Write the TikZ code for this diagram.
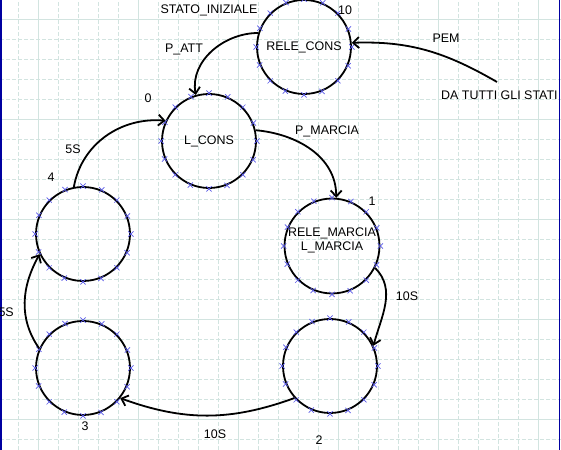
\documentclass[tikz,border=0pt]{standalone}
\usepackage{fontspec}
\setmainfont{Liberation Sans}
\usetikzlibrary{shapes,arrows,arrows.meta,positioning}
\definecolor{gridcol}{RGB}{210,228,224}
\definecolor{markcol}{RGB}{90,90,230}
\definecolor{framecol}{RGB}{0,0,160}
\tikzstyle{state} = [circle, draw, line width=1.8bp, minimum size=94bp, inner sep=0pt, align=center, font=\fontsize{12.5}{13.5}\selectfont]
\tikzstyle{pin} = [cross out, draw=markcol, line width=0.7bp, minimum size=4.5bp, inner sep=0pt]
\tikzstyle{trans} = [line width=1.8bp, -{Straight Barb[length=6bp,width=11bp]}]
\tikzstyle{lbl} = [inner sep=0pt, font=\fontsize{12.5}{13.5}\selectfont]
\tikzstyle{gridd} = [gridcol, line width=0.8bp, dash pattern=on 4bp off 2bp]
\tikzstyle{grids} = [gridcol, line width=0.8bp]

\begin{document}
\begin{tikzpicture}[x=1bp,y=1bp]
\useasboundingbox (0,0) rectangle (561,450);
% sheet grid
\foreach \x in {18,38,...,538} \draw[gridd] (\x,0) -- (\x,450);
\foreach \y in {11,31,...,431} \draw[gridd] (0,\y) -- (561,\y);
\foreach \x in {38,138,...,538} \draw[grids] (\x,0) -- (\x,450);
\foreach \y in {31,131,...,431} \draw[grids] (0,\y) -- (561,\y);
\fill[framecol] (0,0) rectangle (1.5,450);
\fill[framecol] (558.5,0) rectangle (560,450);

% states
\node[state] (rc) at (304,403) {RELE\_CONS};
\node[state] (lc) at (209,309) {L\_CONS};
\node[state, text depth=14bp] (rm) at (332,204) {RELE\_MARCIA\\L\_MARCIA};
\node[state] (s2) at (330,84) {};
\node[state] (s3) at (83,82) {};
\node[state] (s4) at (83,216) {};
\foreach \n in {rc,lc,rm,s2,s3,s4}
  \foreach \a [count=\i] in {0,22.5,...,337.5}
    \node[pin] (\n-\i) at (\n.\a) {};

% transitions
\coordinate (all) at (497,368);
\draw[trans] (rc.163) to[out=180,in=100] (lc.106);
\draw[trans] (all) to[out=150,in=2] (rc.5);
\draw[trans] (lc.13) to[out=-5,in=90] (rm.85);
\draw[trans] (rm.-27) to[out=-45,in=75] (s2.25);
\draw[trans] (s2.222) to[out=200,in=-20] (s3.-39);
\draw[trans] (s3.156) to[out=125,in=241] (s4.205);
\draw[trans] (s4.101) to[out=80,in=175] (lc.155);

% labels
\node[lbl] (init) at (209,440) {STATO\_INIZIALE};
\node[lbl] (n10) at (345,440) {10};
\node[lbl] (patt) at (184,401) {P\_ATT};
\node[lbl] (pem) at (446,412) {PEM};
\node[lbl, anchor=west] (da) at (441,355) {DA TUTTI GLI STATI};
\node[lbl] (n0) at (148,352) {0};
\node[lbl] (t5a) at (73,301) {5S};
\node[lbl] (n4) at (51,273) {4};
\node[lbl] (pmar) at (327,319) {P\_MARCIA};
\node[lbl] (n1) at (372,249) {1};
\node[lbl] (t10a) at (407,154) {10S};
\node[lbl, anchor=east] (t5b) at (14,138) {5S};
\node[lbl] (n3) at (85,24) {3};
\node[lbl] (t10b) at (215,16) {10S};
\node[lbl] (n2) at (319,10) {2};
\end{tikzpicture}
\end{document}
